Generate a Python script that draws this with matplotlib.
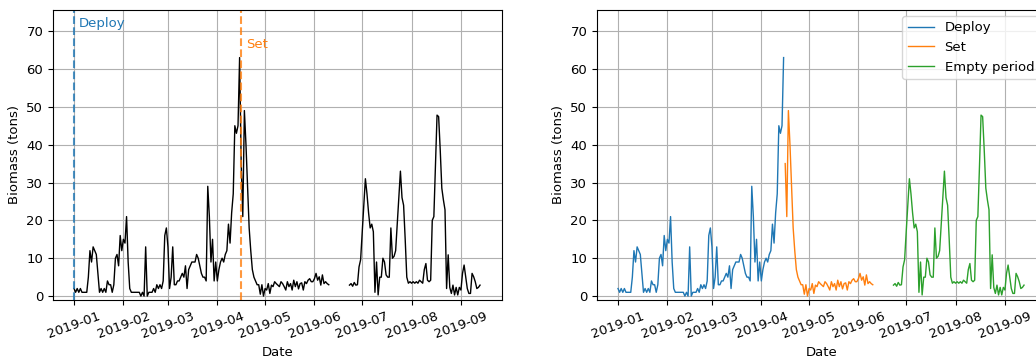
import numpy as np
import pandas as pd
import matplotlib
matplotlib.use('Agg')
import matplotlib.pyplot as plt
import matplotlib.dates as mdates

# period start dates
deploy_date = '2019-01-01'
set_date = '2019-04-16'
empty_date = '2019-06-23'

# daily biomass (tons)
deploy_biomass = [
    2, 1, 2, 1, 2, 1, 1, 1, 1, 5,
    12, 9, 13, 12, 11, 6, 1, 2, 1, 2,
    1, 4, 3, 3, 1, 3, 10, 11, 8, 16,
    12, 15, 14, 21, 9, 2, 1, 1, 1, 1,
    1, 1, 0, 1, 0, 13, 0, 1, 1, 1,
    2, 1, 3, 2, 3, 2, 4, 16, 18, 13,
    2, 5, 13, 3, 3, 4, 4, 5, 6, 5,
    8, 2, 7, 8, 9, 9, 9, 11, 10, 8,
    6, 5, 5, 4, 29, 21, 9, 15, 4, 9,
    4, 7, 9, 10, 9, 11, 12, 19, 14, 22,
    27, 45, 43, 45, 63,
]
set_biomass = [
    35, 21, 49, 40, 29, 18, 12, 7, 5, 4, 3, 3, 0.5, 3, 0,
    2, 1.6, 3.3, 0.7, 2.9, 2.5, 3.8, 3.3, 2.9, 2.5,
    3.8, 3.3, 2.5, 1.6, 3.8, 2.5, 3.3, 1.6, 4.2, 2.5,
    3.8, 1.9, 3.3, 3.5, 1.6, 3.8, 3.3, 4.2, 4.6, 3.8,
    3.8, 4.6, 6, 4.2, 5.1, 2.9, 5.6, 3.3, 3.8, 3.3,
    3,
]
empty_biomass = [
    2.9, 3.3, 2.6, 3.6, 2.9, 3, 7.7,
    9.6, 17, 24, 31, 27, 22, 18, 19, 17, 1,
    9, 0.3, 5, 5, 10, 9, 5.6, 5, 5, 18,
    10, 10.5, 12, 19, 26, 33, 26, 24, 15, 5,
    3.4, 3.8, 3.4, 3.8, 3.4, 3.8, 3.4, 4.2, 3.8, 3.4,
    7, 8.6, 4.2, 3.8, 4.2, 20, 21, 34, 47.8, 47.4,
    38.6, 28.5, 25.4, 22.8, 2, 10.9, 2.3, 0.7, 2.9, 0.3,
    2.3, 0.3, 2.3, 1.6, 6, 8.2, 5.1, 2, 0.7, 0.7,
    6, 5.1, 3.8, 2, 2.3, 2.9,
]

def daily(start, values):
    return pd.Series(values, index=pd.date_range(start, periods=len(values), freq='D'))

deploy = daily(deploy_date, deploy_biomass)
setp = daily(set_date, set_biomass)
empty = daily(empty_date, empty_biomass)
full = pd.concat([deploy, setp, empty]).asfreq('D')  # missing days -> NaN gap

fontSize = 9.5
plt.rcParams.update({'font.size': fontSize})

W, H = 1036, 358
fig = plt.figure(figsize=(W / 100, H / 100), dpi=100)
ax1 = fig.add_axes([53 / W, 1 - 299.5 / H, 449 / W, 290 / H])
ax2 = fig.add_axes([597 / W, 1 - 299.5 / H, 449 / W, 290 / H])

# left: whole series with event markers
ax1.plot(full.index, full.values, color='black', lw=1)
ax1.axvline(pd.Timestamp(deploy_date), color='C0', ls='--', lw=1.5, alpha=0.8)
ax1.axvline(pd.Timestamp(set_date), color='C1', ls='--', lw=1.5, alpha=0.8)
ax1.text(pd.Timestamp(deploy_date) + pd.Timedelta(days=3), 71, 'Deploy', color='C0')
ax1.text(pd.Timestamp(set_date) + pd.Timedelta(days=3), 65.5, 'Set', color='C1')

# right: coloured by period
ax2.plot(deploy.index, deploy.values, color='C0', lw=1, label='Deploy')
ax2.plot(setp.index, setp.values, color='C1', lw=1, label='Set')
ax2.plot(empty.index, empty.values, color='C2', lw=1, label='Empty period')
ax2.legend(loc='upper right')

x0 = pd.Timestamp(deploy_date)
for ax in (ax1, ax2):
    ax.set_xlim(x0 - pd.Timedelta(days=13.2), x0 + pd.Timedelta(days=268.8))
    ax.set_ylim(-0.9, 75.7)
    ax.xaxis.set_major_locator(mdates.MonthLocator())
    ax.xaxis.set_major_formatter(mdates.DateFormatter('%Y-%m'))
    ax.tick_params(axis='x', rotation=20)
    ax.grid(True)
    ax.set_xlabel('Date')
    ax.set_ylabel('Biomass (tons)')

fig.savefig('out.png', dpi=100)
